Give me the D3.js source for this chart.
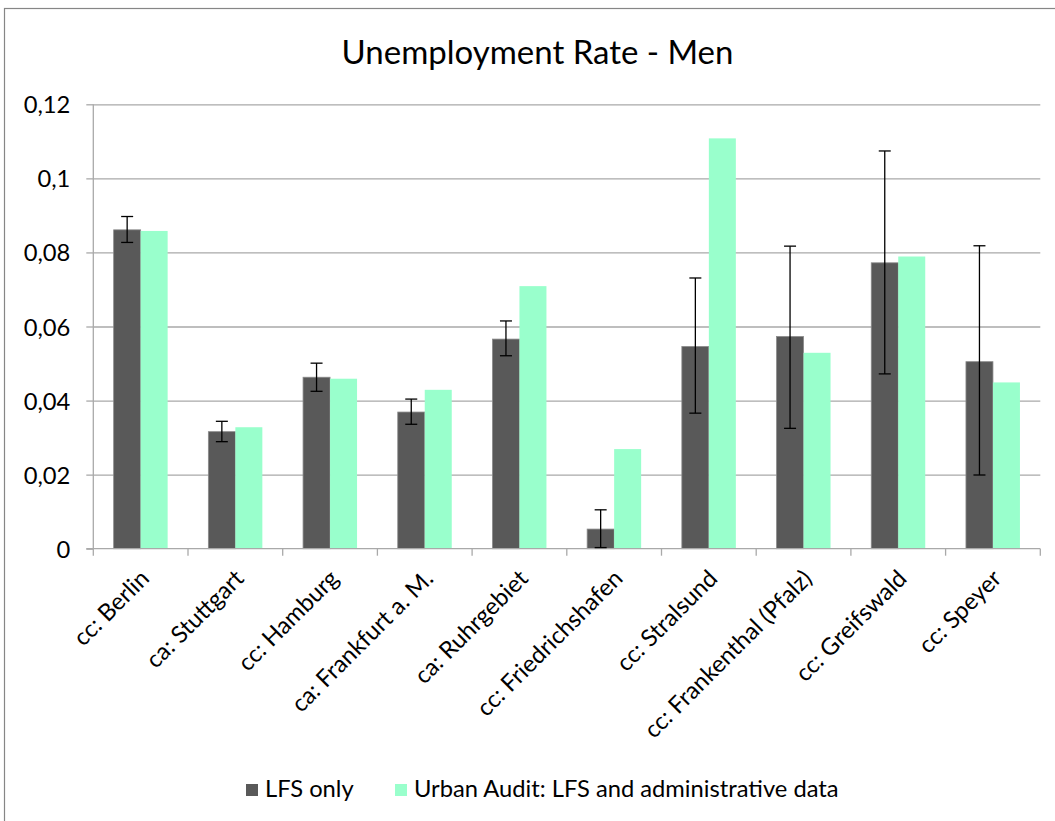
<!DOCTYPE html>
<html>
<head>
<meta charset="utf-8">
<script src="https://cdn.jsdelivr.net/npm/d3@7"></script>
<style>
  html, body { margin: 0; padding: 0; background: #ffffff; }
  svg { display: block; }
  text { font-family: Lato, "Open Sans", sans-serif; fill: #000; }
</style>
</head>
<body>
<svg id="chart" width="1055" height="821"></svg>
<script>
// Unemployment rate of men, LFS estimate (with confidence interval) vs Urban Audit
const categories = [
  "cc: Berlin", "ca: Stuttgart", "cc: Hamburg", "ca: Frankfurt a. M.",
  "ca: Ruhrgebiet", "cc: Friedrichshafen", "cc: Stralsund",
  "cc: Frankenthal (Pfalz)", "cc: Greifswald", "cc: Speyer"
];
const lfsOnly    = [0.0861, 0.0316, 0.0463, 0.0369, 0.0566, 0.0053, 0.0546, 0.0573, 0.0772, 0.0505];
const lfsLow     = [0.0827, 0.0289, 0.0425, 0.0336, 0.0521, 0.0003, 0.0366, 0.0325, 0.0472, 0.0199];
const lfsHigh    = [0.0897, 0.0344, 0.0501, 0.0404, 0.0615, 0.0105, 0.0731, 0.0817, 0.1074, 0.0818];
const urbanAudit = [0.0858, 0.0328, 0.0459, 0.0429, 0.0709, 0.0269, 0.1108, 0.0529, 0.0789, 0.0449];

const seriesKeys   = ["lfs", "urban"];
const seriesNames  = ["LFS only", "Urban Audit: LFS and administrative data"];
const seriesColors = ["#595959", "#99ffcc"];

const yTicks      = [0, 0.02, 0.04, 0.06, 0.08, 0.1, 0.12];
const yTickLabels = ["0", "0,02", "0,04", "0,06", "0,08", "0,1", "0,12"];

const titleText = "Unemployment Rate - Men";

const svg = d3.select("#chart");
const W = 1055, H = 821;
const plot = { left: 93.3, right: 1040.3, top: 104.3, bottom: 548.7 };

// Chart frame
svg.append("rect")
  .attr("x", 4.5).attr("y", 8.5)
  .attr("width", W + 20).attr("height", H + 20)
  .attr("fill", "#fff").attr("stroke", "#868686").attr("stroke-width", 1.2);

// Font sizing: scale the base size so the legend's long label has its set width
const probe = svg.append("text").style("font-size", "20px").text(seriesNames[1]);
const fs = 20 * 425 / probe.node().getComputedTextLength();
probe.remove();

const x = d3.scaleBand().domain(categories).range([plot.left, plot.right]).paddingInner(0).paddingOuter(0);
const xSub = d3.scaleBand().domain(seriesKeys).range([0, x.bandwidth()]).paddingInner(0).paddingOuter(0.754);
const y = d3.scaleLinear().domain([0, 0.12]).range([plot.bottom, plot.top]);

// Horizontal gridlines
svg.append("g")
  .attr("transform", `translate(${plot.left},0)`)
  .call(d3.axisRight(y).tickValues(yTicks.filter(d => d > 0)).tickSize(plot.right - plot.left).tickFormat(""))
  .call(g => g.select(".domain").remove())
  .call(g => g.selectAll("line").attr("stroke", "#a9a9a9").attr("stroke-width", 1.3));

// Y axis
const yAxis = svg.append("g")
  .attr("transform", `translate(${plot.left},0)`)
  .call(d3.axisLeft(y).tickValues(yTicks).tickSize(7).tickPadding(16)
    .tickFormat((d, i) => yTickLabels[i]));
yAxis.select(".domain").attr("stroke", "#a9a9a9").attr("stroke-width", 1.3)
  .attr("d", `M0,${plot.top}V${plot.bottom}`);
yAxis.selectAll("line").attr("stroke", "#a9a9a9").attr("stroke-width", 1.3);
yAxis.selectAll("text").style("font-size", fs + "px").attr("font-family", null).attr("dy", "0.36em");

// Bars
const rows = categories.map((c, i) => ({
  cat: c,
  values: [
    { key: "lfs", value: lfsOnly[i] },
    { key: "urban", value: urbanAudit[i] }
  ]
}));

const groups = svg.append("g").selectAll("g")
  .data(rows).join("g")
  .attr("transform", d => `translate(${x(d.cat)},0)`);

groups.selectAll("rect")
  .data(d => d.values).join("rect")
  .attr("x", d => xSub(d.key))
  .attr("y", d => y(d.value))
  .attr("width", xSub.bandwidth())
  .attr("height", d => y(0) - y(d.value))
  .attr("fill", d => seriesColors[seriesKeys.indexOf(d.key)])
  .attr("stroke", d => d.key === "lfs" ? "#8a8a8a" : "none")
  .attr("stroke-width", 0.8);

// X axis baseline and tick marks at category boundaries
svg.append("line")
  .attr("x1", plot.left - 7).attr("x2", plot.right)
  .attr("y1", y(0)).attr("y2", y(0))
  .attr("stroke", "#a9a9a9").attr("stroke-width", 1.3);
const edges = categories.map(c => x(c)).concat([x(categories[categories.length - 1]) + x.bandwidth()]);
svg.append("g").selectAll("line")
  .data(edges).join("line")
  .attr("x1", d => d).attr("x2", d => d)
  .attr("y1", y(0)).attr("y2", y(0) + 7)
  .attr("stroke", "#a9a9a9").attr("stroke-width", 1.3);

// Error bars on the LFS estimate
const capW = 12;
const err = svg.append("g").selectAll("g")
  .data(categories.map((c, i) => ({ cat: c, lo: lfsLow[i], hi: lfsHigh[i] })))
  .join("g")
  .attr("transform", d => `translate(${x(d.cat) + xSub("lfs") + xSub.bandwidth() / 2},0)`)
  .attr("stroke", "#000").attr("stroke-width", 1.3);
err.append("line").attr("x1", 0).attr("x2", 0).attr("y1", d => y(d.hi)).attr("y2", d => y(d.lo));
err.append("line").attr("x1", -capW / 2).attr("x2", capW / 2).attr("y1", d => y(d.hi)).attr("y2", d => y(d.hi));
err.append("line").attr("x1", -capW / 2).attr("x2", capW / 2).attr("y1", d => y(d.lo)).attr("y2", d => y(d.lo));

// Category labels, rotated
svg.append("g").selectAll("text")
  .data(categories).join("text")
  .attr("transform", d => `translate(${x(d) + x.bandwidth() / 2 + 10},580) rotate(-45)`)
  .attr("text-anchor", "end")
  .style("font-size", fs + "px")
  .text(d => d);

// Title
const title = svg.append("text")
  .attr("x", 537.5).attr("y", 64)
  .attr("text-anchor", "middle")
  .style("font-size", "28px")
  .text(titleText);
title.style("font-size", (28 * 392 / title.node().getComputedTextLength()) + "px");

// Legend
const legendX = [246, 395];
const legend = svg.append("g").selectAll("g")
  .data(seriesKeys).join("g")
  .attr("transform", (d, i) => `translate(${legendX[i]},784)`);
legend.append("rect")
  .attr("width", 12).attr("height", 12)
  .attr("fill", (d, i) => seriesColors[i]);
legend.append("text")
  .attr("x", 19).attr("y", 12.5)
  .style("font-size", fs + "px")
  .text((d, i) => seriesNames[i]);
</script>
</body>
</html>
